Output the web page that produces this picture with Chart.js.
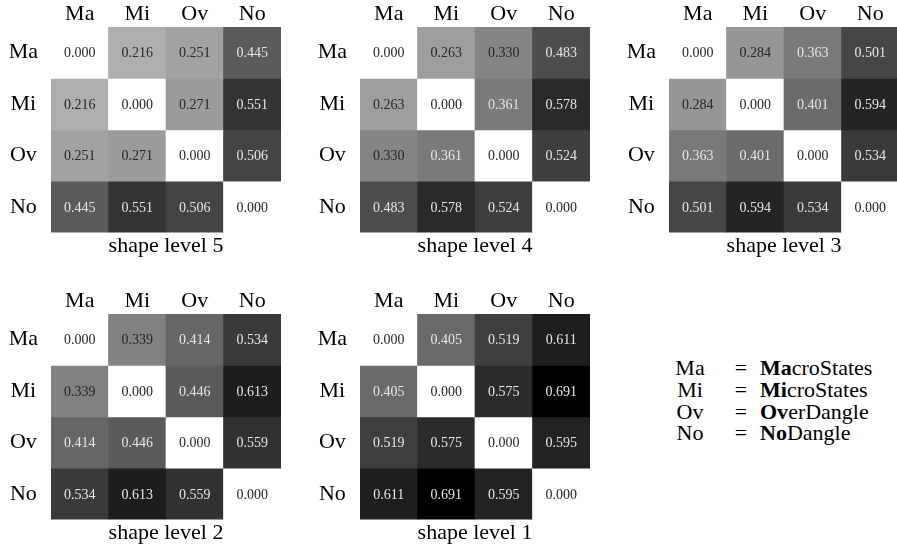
<!DOCTYPE html>
<html>
<head>
<meta charset="utf-8">
<script src="https://cdn.jsdelivr.net/npm/chart.js@4/dist/chart.umd.min.js"></script>
<style>
  html, body { margin: 0; padding: 0; background: #fff; width: 897px; height: 547px; overflow: hidden; }
  canvas { position: absolute; }
  .key { position: absolute; font-family: "Liberation Serif", "Times New Roman", "DejaVu Serif", serif; font-size: 22px; color: #000; line-height: 22px; height: 22px; white-space: nowrap; }
  .key.abbr { width: 44px; text-align: center; }
  .key.eq { width: 20px; text-align: center; }
</style>
</head>
<body>
<canvas id="c5" width="280" height="259" style="left:1px;top:0px"></canvas>
<canvas id="c4" width="280" height="259" style="left:310px;top:0px"></canvas>
<canvas id="c3" width="280" height="259" style="left:619px;top:0px"></canvas>
<canvas id="c2" width="280" height="259" style="left:1px;top:287px"></canvas>
<canvas id="c1" width="280" height="259" style="left:310px;top:287px"></canvas>

<div id="keyBox"></div>

<script>
// Pairwise distances between the four shape classes, one matrix per shape level
const rowLabels = ['Ma', 'Mi', 'Ov', 'No'];
const colLabels = ['Ma', 'Mi', 'Ov', 'No'];

const level5 = [
  [0.000, 0.216, 0.251, 0.445],
  [0.216, 0.000, 0.271, 0.551],
  [0.251, 0.271, 0.000, 0.506],
  [0.445, 0.551, 0.506, 0.000]
];
const level4 = [
  [0.000, 0.263, 0.330, 0.483],
  [0.263, 0.000, 0.361, 0.578],
  [0.330, 0.361, 0.000, 0.524],
  [0.483, 0.578, 0.524, 0.000]
];
const level3 = [
  [0.000, 0.284, 0.363, 0.501],
  [0.284, 0.000, 0.401, 0.594],
  [0.363, 0.401, 0.000, 0.534],
  [0.501, 0.594, 0.534, 0.000]
];
const level2 = [
  [0.000, 0.339, 0.414, 0.534],
  [0.339, 0.000, 0.446, 0.613],
  [0.414, 0.446, 0.000, 0.559],
  [0.534, 0.613, 0.559, 0.000]
];
const level1 = [
  [0.000, 0.405, 0.519, 0.611],
  [0.405, 0.000, 0.575, 0.691],
  [0.519, 0.575, 0.000, 0.595],
  [0.611, 0.691, 0.595, 0.000]
];

const panelTitles = ['shape level 5', 'shape level 4', 'shape level 3', 'shape level 2', 'shape level 1'];
const panelData = [level5, level4, level3, level2, level1];
const panelIds = ['c5', 'c4', 'c3', 'c2', 'c1'];

// Abbreviation key
const keyAbbr = ['Ma', 'Mi', 'Ov', 'No'];
const keyBold = ['Ma', 'Mi', 'Ov', 'No'];
const keyRest = ['croStates', 'croStates', 'erDangle', 'Dangle'];

const serif = '"Liberation Serif", "Times New Roman", "DejaVu Serif", serif';
Chart.defaults.color = '#000';
Chart.defaults.font.family = serif;

// Shared grey scale: white at 0, black at the largest distance
const vmax = Math.max(...panelData.flat(2));
function shade(v) {
  const g = Math.round(255 * (1 - v / vmax));
  return `rgb(${g},${g},${g})`;
}

// Writes each cell's value in its centre
function cellText(matrix) {
  return {
    id: 'cellText',
    afterDatasetsDraw(chart) {
      const ctx = chart.ctx;
      ctx.save();
      ctx.font = `14px ${serif}`;
      ctx.textAlign = 'center';
      ctx.textBaseline = 'middle';
      chart.data.datasets.forEach((ds, i) => {
        chart.getDatasetMeta(i).data.forEach((bar, j) => {
          const v = matrix[i][j];
          const c = bar.getCenterPoint();
          ctx.fillStyle = v < vmax / 2 ? '#262626' : '#e6e6e6';
          ctx.fillText(v.toFixed(3), c.x, c.y + 1);
        });
      });
      ctx.restore();
    }
  };
}

panelData.forEach((matrix, p) => {
  new Chart(document.getElementById(panelIds[p]), {
    type: 'bar',
    data: {
      labels: colLabels,
      // one dataset per matrix row; each cell is a floating bar spanning its row band
      datasets: matrix.map((row, i) => ({
        data: row.map(() => [i, i + 1]),
        backgroundColor: row.map(shade),
        borderWidth: 0,
        barPercentage: 1,
        categoryPercentage: 1,
        grouped: false
      }))
    },
    options: {
      responsive: false,
      animation: false,
      events: [],
      layout: { padding: 0 },
      scales: {
        x: {
          type: 'category',
          position: 'top',
          offset: true,
          grid: { display: false, drawTicks: false },
          border: { display: false },
          ticks: { padding: 0, autoSkip: false, maxRotation: 0, color: '#000', font: { family: serif, size: 22 } },
          afterFit(s) { s.height = 27; }
        },
        y: { type: 'linear', min: 0, max: 4, reverse: true, display: false },
        rows: {
          axis: 'y',
          type: 'category',
          labels: rowLabels,
          position: 'left',
          offset: true,
          grid: { display: false, drawTicks: false },
          border: { display: false },
          ticks: { padding: 13, crossAlign: 'center', color: '#000', font: { family: serif, size: 22 } },
          afterFit(s) { s.width = 50; }
        }
      },
      plugins: {
        legend: { display: false },
        tooltip: { enabled: false },
        title: {
          display: true,
          text: panelTitles[p],
          position: 'bottom',
          fullSize: false,
          color: '#000',
          font: { family: serif, size: 22, weight: 'normal' },
          padding: { top: 0, bottom: 0 }
        }
      }
    },
    plugins: [cellText(matrix)]
  });
});

// Key on the lower right
const keyBox = document.getElementById('keyBox');
const keyTops = [357, 379, 401, 422];
keyAbbr.forEach((a, i) => {
  const d1 = document.createElement('div');
  d1.className = 'key abbr';
  d1.style.left = '668px';
  d1.style.top = keyTops[i] + 'px';
  d1.textContent = a;
  const d2 = document.createElement('div');
  d2.className = 'key eq';
  d2.style.left = '731px';
  d2.style.top = keyTops[i] + 'px';
  d2.textContent = '=';
  const d3 = document.createElement('div');
  d3.className = 'key';
  d3.style.left = '760px';
  d3.style.top = keyTops[i] + 'px';
  const b = document.createElement('b');
  b.textContent = keyBold[i];
  d3.appendChild(b);
  d3.appendChild(document.createTextNode(keyRest[i]));
  keyBox.append(d1, d2, d3);
});
</script>
</body>
</html>
